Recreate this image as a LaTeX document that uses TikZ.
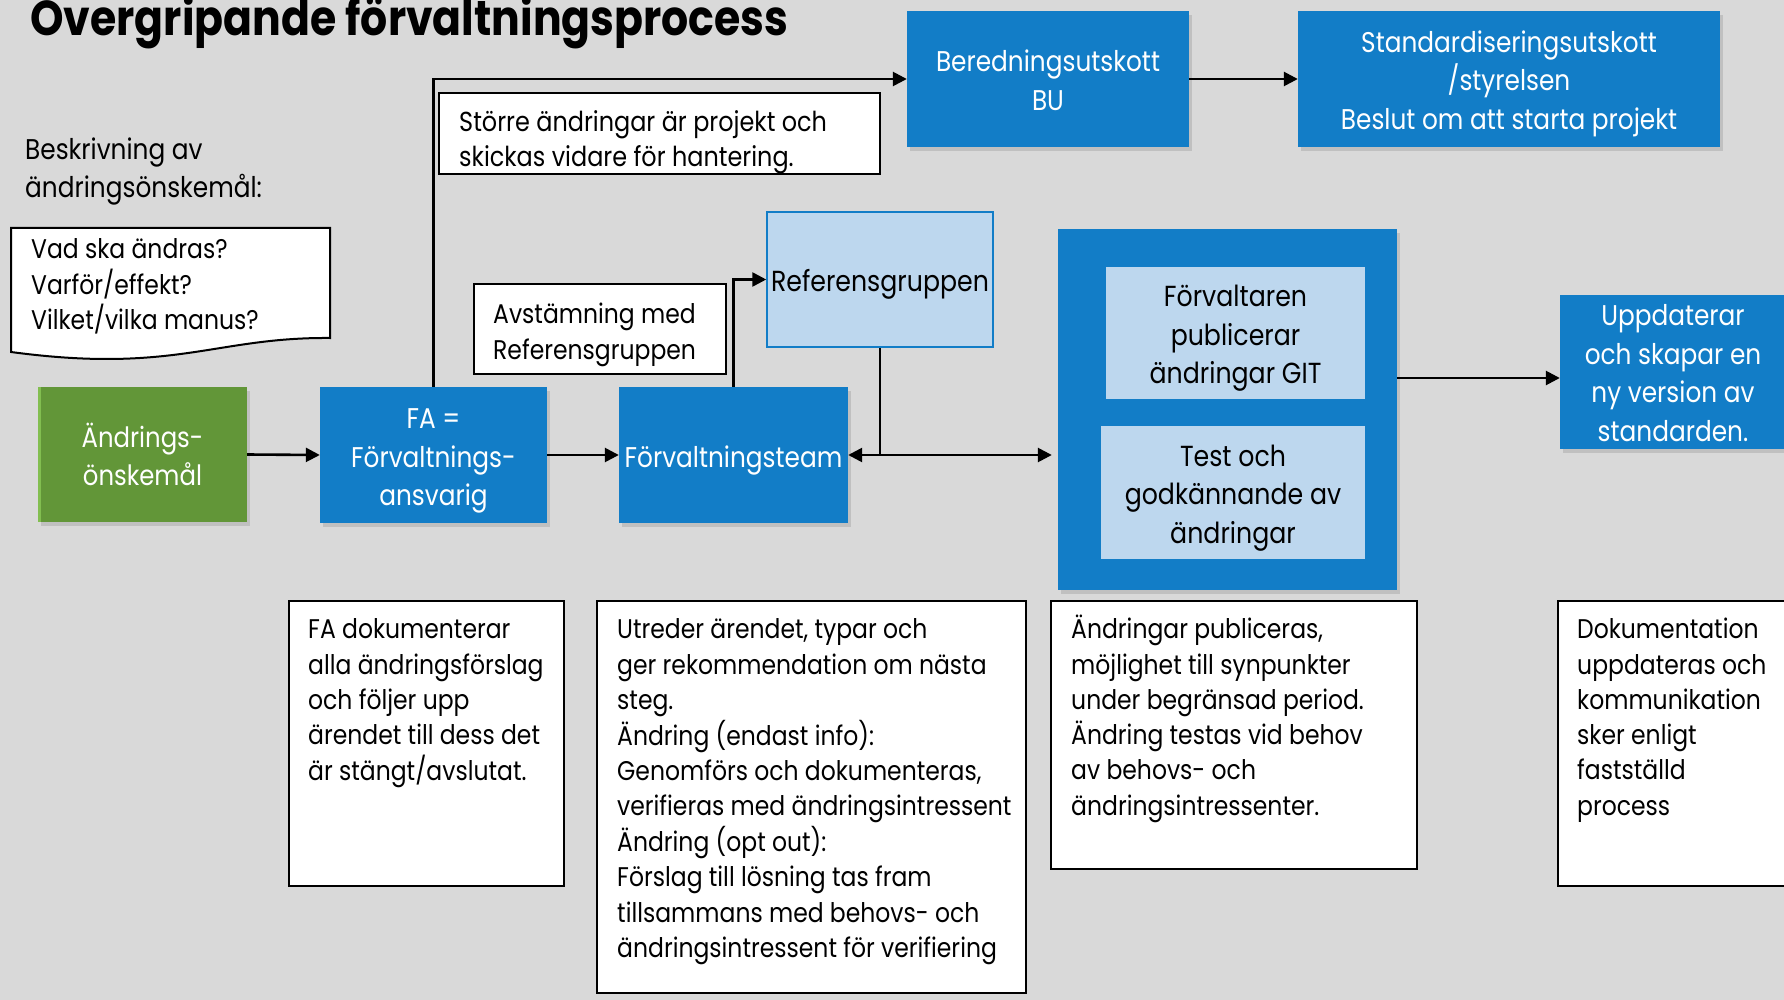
\documentclass[tikz,border=0pt]{standalone}
\usepackage{fontspec}
\setmainfont[FakeStretch=0.87]{Poppins}
\usetikzlibrary{arrows.meta,shadows}
\definecolor{bgc}{RGB}{217,217,217}
\definecolor{bblue}{RGB}{18,125,199}
\definecolor{lblue}{RGB}{189,215,238}
\definecolor{grn}{RGB}{98,150,56}
\definecolor{grnlight}{RGB}{130,190,80}
\newcommand\boxlines[1]{\raisebox{-4.3pt}[\height][\depth]{\begin{tabular}{@{}c@{}}#1\end{tabular}}}
\newcommand\notelines[1]{\begin{tabular}[t]{@{}l@{}}#1\end{tabular}}
\begin{document}
\begin{tikzpicture}[x=1pt,y=-1pt,
  conn/.style={line width=2.6pt, black},
  arr/.style={conn, -{Triangle[length=14pt,width=14pt]}},
  shad/.style={drop shadow={opacity=0.28,shadow xshift=3pt,shadow yshift=-4pt}},
  boxtxt/.style={font=\fontsize{28.5}{38.5}\selectfont, inner sep=0pt},
  bluebox/.style={boxtxt, fill=bblue, draw=none, shad, text=white},
  greenbox/.style={boxtxt, font=\fontsize{28}{38.5}\selectfont, fill=grn, draw=none, shad, text=white},
  lightbox/.style={boxtxt, font=\fontsize{29}{38.5}\selectfont, fill=lblue, draw=none, text=black},
  notebox/.style={fill=white, draw=black, line width=2pt, inner sep=0pt},
  notetxt/.style={font=\fontsize{27}{35.3}\selectfont, inner sep=0pt, anchor=north west},
]
\useasboundingbox (0,0) rectangle (1784,1000);
\fill[bgc] (0,0) rectangle (1784,1000);

% title
\node[anchor=base west, inner sep=0pt, font=\fontsize{49}{52}\bfseries\selectfont] (title) at (30,36) {Overgripande förvaltningsprocess};

% left description
\node[anchor=west, inner sep=0pt, align=left, font=\fontsize{28.5}{38}\selectfont] (beskr) at (25,171.5) {Beskrivning av\\ändringsönskemål:};
\draw[fill=white, draw=black, line width=2pt] (11,228) -- (330,228) -- (330,338)
  .. controls (215,337) and (175,374) .. (11,352) -- cycle;
\node[anchor=west, inner sep=0pt, align=left, font=\fontsize{27}{35.5}\selectfont] (doctext) at (31,286.5) {Vad ska ändras?\\Varför/effekt?\\Vilket/vilka manus?};

% main boxes
\node[greenbox, minimum width=209pt, minimum height=135pt] (green) at (142.5,454.5) {\boxlines{Ändrings-\\önskemål}};
\fill[grnlight] (green.north west) rectangle ([xshift=3pt]green.south west);
\node[bluebox, minimum width=227pt, minimum height=136pt] (fa) at (433.5,455) {\boxlines{FA =\\Förvaltnings-\\ansvarig}};
\node[bluebox, minimum width=229pt, minimum height=136pt] (team) at (733.5,455) {\boxlines{Förvaltningsteam}};
\node[lightbox, draw=bblue, line width=1.5pt, minimum width=226pt, minimum height=135pt] (ref) at (880,279.5) {\boxlines{Referensgruppen}};
\node[notebox, minimum width=252pt, minimum height=90pt] (avst) at (600,329) {};
\node[notetxt] (avsttxt) at (493,298.8) {\notelines{Avstämning med\\Referensgruppen}};
\node[notebox, minimum width=441pt, minimum height=81pt] (storre) at (659.5,133.5) {};
\node[notetxt, font=\fontsize{27.5}{35.3}\selectfont] (storretxt) at (459,106.5) {\notelines{Större ändringar är projekt och\\skickas vidare för hantering.}};
\node[bluebox, minimum width=282pt, minimum height=136pt] (bered) at (1048,79) {\boxlines{Beredningsutskott\\BU}};
\node[bluebox, minimum width=422pt, minimum height=136pt] (stand) at (1509,79) {\boxlines{Standardiseringsutskott\\/styrelsen\\Beslut om att starta projekt}};
\node[bluebox, minimum width=339pt, minimum height=361pt] (big) at (1227.5,409.5) {};
\node[lightbox, minimum width=259pt, minimum height=132pt] (in1) at (1235.5,333) {\boxlines{Förvaltaren\\publicerar\\ändringar GIT}};
\node[lightbox, minimum width=264pt, minimum height=133pt] (in2) at (1233,492.5) {\boxlines{Test och\\godkännande av\\ändringar}};
\node[bluebox, minimum width=226pt, minimum height=151pt] (upd) at (1673,371.5) {\boxlines{Uppdaterar\\och skapar en\\ny version av\\standarden.}};

% bottom notes
\node[notebox, minimum width=275pt, minimum height=285pt] (da) at (426.5,743.5) {};
\node[notetxt] (datxt) at (308,613.8) {\notelines{FA dokumenterar\\alla ändringsförslag\\och följer upp\\ärendet till dess det\\är stängt/avslutat.}};
\node[notebox, minimum width=429pt, minimum height=392pt] (db) at (811.5,797) {};
\node[notetxt] (dbtxt) at (617,613.8) {\notelines{Utreder ärendet, typar och\\ger rekommendation om nästa\\steg.\\Ändring (endast info):\\Genomförs och dokumenteras,\\verifieras med ändringsintressent\\Ändring (opt out):\\Förslag till lösning tas fram\\tillsammans med behovs- och\\ändringsintressent för verifiering}};
\node[notebox, minimum width=366pt, minimum height=268pt] (dc) at (1234,735) {};
\node[notetxt] (dctxt) at (1071,613.8) {\notelines{Ändringar publiceras,\\möjlighet till synpunkter\\under begränsad period.\\Ändring testas vid behov\\av behovs- och\\ändringsintressenter.}};
\node[notebox, minimum width=242pt, minimum height=285pt] (dd) at (1679,743.5) {};
\node[notetxt] (ddtxt) at (1577,613.8) {\notelines{Dokumentation\\uppdateras och\\kommunikation\\sker enligt\\fastställd\\process}};

% connectors
\draw[arr] (green.east) -- (fa.west);
\draw[arr] (fa.east) -- (team.west);
\draw[arr] (fa.north) |- (bered.west);
\draw[arr] (bered.east) -- (stand.west);
\draw[arr] (team.north) |- (ref.west);
\draw[arr] (ref.south) |- (team.east);
\coordinate (split) at (ref.south |- team.east);
\draw[arr, shorten >=6pt] (split) -- (split -| big.west);
\coordinate (outpt) at (1397,378);
\draw[arr] (outpt) -- (outpt -| upd.west);
\end{tikzpicture}
\end{document}
